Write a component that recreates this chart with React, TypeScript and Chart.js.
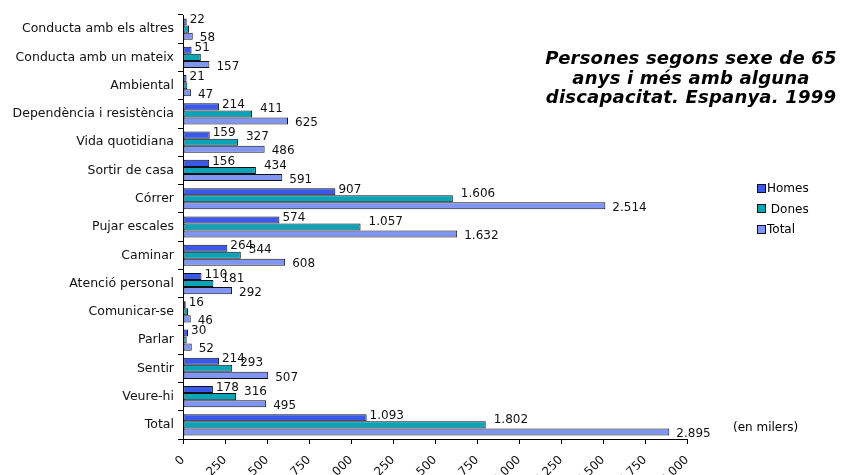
import React, { useEffect, useRef } from "react";
import { Chart, registerables } from "chart.js";

Chart.register(...registerables);

const categories = [
  "Conducta amb els altres",
  "Conducta amb un mateix",
  "Ambiental",
  "Dependència i resistència",
  "Vida quotidiana",
  "Sortir de casa",
  "Córrer",
  "Pujar escales",
  "Caminar",
  "Atenció personal",
  "Comunicar-se",
  "Parlar",
  "Sentir",
  "Veure-hi",
  "Total",
];
const homes = [22, 51, 21, 214, 159, 156, 907, 574, 264, 110, 16, 30, 214, 178, 1093];
const dones = [36, 106, 26, 411, 327, 434, 1606, 1057, 344, 181, 30, 22, 293, 316, 1802];
const total = [58, 157, 47, 625, 486, 591, 2514, 1632, 608, 292, 46, 52, 507, 495, 2895];
const seriesNames = ["Homes", "Dones", "Total"];
const legendLabels = ["Homes", " Dones", "Total"];
const donesLabelHidden = ["Conducta amb els altres", "Conducta amb un mateix", "Ambiental", "Comunicar-se", "Parlar"];
const xMin = 0;
const xMax = 3000;
const xStep = 250;
const titleLines = ["Persones segons sexe de 65", "anys i més amb alguna", "discapacitat. Espanya. 1999"];
const unitNote = "(en milers)";

const colors = ["#3a58ea", "#0aa3b8", "#8096f2"];
const labelOffsets = [
  { dx: 3, dy: -2 },
  { dx: 8, dy: -5 },
  { dx: 7, dy: 2 },
];
const FONT = "'DejaVu Sans', Verdana, sans-serif";

const fmt = (n: number) => String(n).replace(/\B(?=(\d{3})+(?!\d))/g, ".");

const valueLabels = {
  id: "valueLabels",
  afterDatasetsDraw(chart: any) {
    const ctx = chart.ctx;
    ctx.save();
    ctx.font = "12px " + FONT;
    ctx.fillStyle = "#111";
    ctx.textAlign = "left";
    ctx.textBaseline = "middle";
    chart.data.datasets.forEach((ds: any, di: number) => {
      const meta = chart.getDatasetMeta(di);
      meta.data.forEach((el: any, i: number) => {
        if (di === 1 && donesLabelHidden.includes(categories[i])) return;
        const off = labelOffsets[di];
        ctx.fillText(fmt(ds.data[i]), el.x + off.dx, el.y + off.dy);
      });
    });
    ctx.restore();
  },
};

export default function App() {
  const ref = useRef<HTMLCanvasElement>(null);
  useEffect(() => {
    if (!ref.current) return;
    const data = [homes, dones, total];
    const chart = new Chart(ref.current, {
      type: "bar",
      data: {
        labels: categories,
        datasets: seriesNames.map((name, i) => ({
          label: name,
          data: data[i],
          backgroundColor: colors[i],
          borderColor: "#111",
          borderWidth: 1,
          borderSkipped: false,
          categoryPercentage: 0.75,
          barPercentage: 1.0,
        })),
      },
      options: {
        indexAxis: "y",
        responsive: false,
        animation: false,
        layout: { padding: { top: 15, right: 158, left: 0, bottom: 0 } },
        plugins: {
          legend: { display: false },
          tooltip: { enabled: false },
          title: { display: false },
        },
        scales: {
          y: {
            type: "category",
            afterFit: (s: any) => {
              s.width = 183;
            },
            grid: {
              drawOnChartArea: false,
              drawTicks: true,
              tickLength: 5,
              color: "#000",
              offset: true,
            },
            border: { color: "#000", width: 1 },
            ticks: {
              color: "#111",
              font: { family: FONT, size: 12.5 },
              padding: 4,
              autoSkip: false,
            },
          },
          x: {
            type: "linear",
            min: xMin,
            max: xMax,
            afterFit: (s: any) => {
              s.height = 36;
            },
            grid: {
              drawOnChartArea: false,
              drawTicks: true,
              tickLength: 5,
              color: "#000",
            },
            border: { color: "#000", width: 1 },
            ticks: {
              stepSize: xStep,
              color: "#111",
              font: { family: FONT, size: 12 },
              minRotation: 45,
              maxRotation: 45,
              autoSkip: false,
              padding: 9,
              callback: (v: any) => fmt(Number(v)),
            },
          },
        },
      },
      plugins: [valueLabels],
    });
    return () => chart.destroy();
  }, []);

  return (
    <div
      style={{
        position: "absolute",
        left: 0,
        top: 0,
        width: 845,
        height: 475,
        overflow: "hidden",
        background: "#fff",
        fontFamily: FONT,
      }}
    >
      <canvas ref={ref} width={845} height={475} style={{ position: "absolute", left: 0, top: 0, width: 845, height: 475 }} />
      <div
        style={{
          position: "absolute",
          left: 541,
          width: 300,
          top: 48,
          textAlign: "center",
          fontWeight: "bold",
          fontStyle: "italic",
          fontSize: 18,
          lineHeight: "19.5px",
          letterSpacing: "0.2px",
          color: "#000",
          whiteSpace: "nowrap",
        }}
      >
        {titleLines.map((t, i) => (
          <div key={i}>{t}</div>
        ))}
      </div>
      {legendLabels.map((t, i) => (
        <div
          key={i}
          style={{
            position: "absolute",
            left: 757,
            top: 180 + i * 20.5,
            height: 16,
            display: "flex",
            alignItems: "center",
            fontSize: 12,
            color: "#000",
            whiteSpace: "pre",
          }}
        >
          <span
            style={{
              display: "inline-block",
              width: 7,
              height: 7,
              background: colors[i],
              border: "1px solid #111",
              marginRight: 1,
            }}
          />
          {t}
        </div>
      ))}
      <div style={{ position: "absolute", left: 733, top: 420, fontSize: 12, color: "#000", whiteSpace: "nowrap" }}>{unitNote}</div>
    </div>
  );
}
